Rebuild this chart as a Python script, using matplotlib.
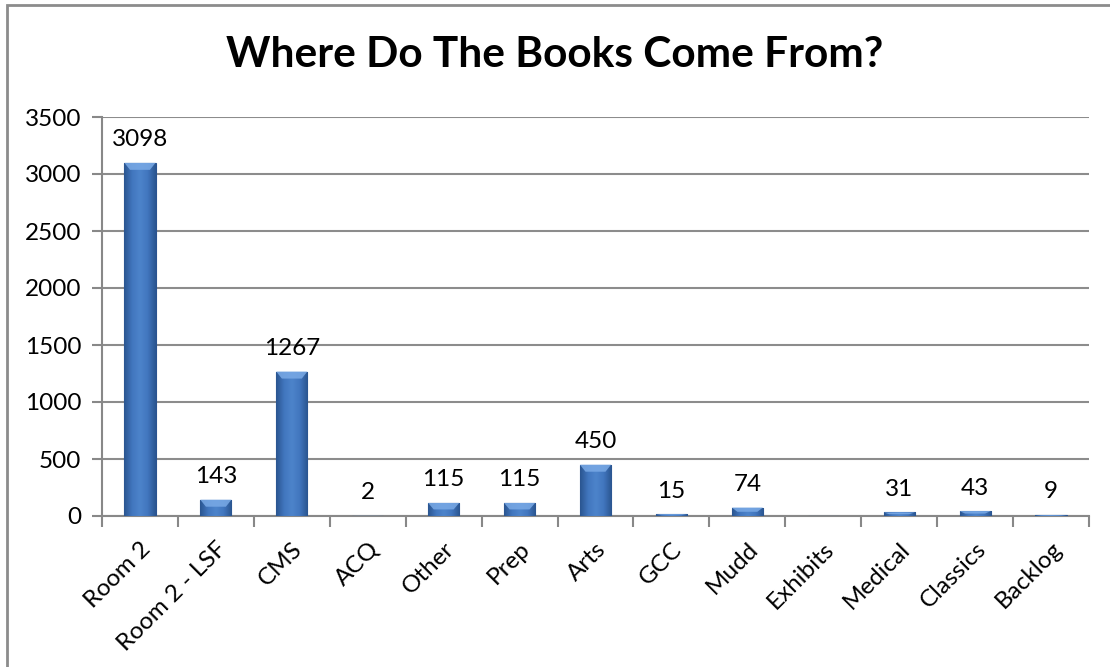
import numpy as np
import matplotlib
matplotlib.use("Agg")
import matplotlib.pyplot as plt
from matplotlib.patches import Rectangle, Polygon
from matplotlib.colors import LinearSegmentedColormap

categories = ["Room 2", "Room 2 - LSF", "CMS", "ACQ", "Other", "Prep", "Arts",
              "GCC", "Mudd", "Exhibits", "Medical", "Classics", "Backlog"]
values = [3098, 143, 1267, 2, 115, 115, 450, 15, 74, np.nan, 31, 43, 9]
yticks = [0, 500, 1000, 1500, 2000, 2500, 3000, 3500]
title = "Where Do The Books Come From?"

plt.rcParams['font.family'] = ['Lato', 'DejaVu Sans']

fig = plt.figure(figsize=(11.10, 6.67), dpi=100)
W, H = 1110, 667
ax = fig.add_axes([102 / W, 1 - 516 / H, (1089 - 102) / W, (516 - 117) / H])

x = np.arange(len(categories))
vals = np.array(values, dtype=float)
plot_vals = np.nan_to_num(vals, nan=0.0)

bars = ax.bar(x, plot_vals, width=0.41, color="#3b6db3", edgecolor="#2a5390",
              linewidth=0.8, zorder=3)

cmap = LinearSegmentedColormap.from_list(
    "b", ["#2a5590", "#4176be", "#4d84cb", "#4176be", "#2a5590"])
grad = np.linspace(0, 1, 64).reshape(1, -1)
ax.set_xlim(-0.5, len(categories) - 0.5)
ax.set_ylim(0, 3500)
trans = ax.transData
inv = trans.inverted()
for b, v in zip(bars, plot_vals):
    if v <= 0:
        continue
    x0, w, h = b.get_x(), b.get_width(), b.get_height()
    im = ax.imshow(grad, extent=[x0, x0 + w, 0, h], aspect="auto",
                   cmap=cmap, zorder=3.5, interpolation="bicubic")
    im.set_clip_path(b)
    bev = min(7, h / 3500 * 399 * 0.5)
    inset = w * 0.18
    p_top_l = trans.transform((x0, h))
    p_top_r = trans.transform((x0 + w, h))
    p_bot_l = trans.transform((x0 + inset, h))
    p_bot_r = trans.transform((x0 + w - inset, h))
    p_bot_l[1] -= bev
    p_bot_r[1] -= bev
    pts = inv.transform([p_top_l, p_top_r, p_bot_r, p_bot_l])
    ax.add_patch(Polygon(pts, closed=True, facecolor="#7aaae6", edgecolor="none",
                         zorder=4, alpha=0.85))

for xi, v in zip(x, vals):
    if np.isnan(v):
        continue
    ax.annotate(f"{int(v)}", (xi, v), xytext=(0, 9), textcoords="offset points",
                ha="center", va="bottom", fontsize=17.5, color="black")

ax.set_yticks(yticks)
ax.set_yticklabels([str(t) for t in yticks], fontsize=17.5)
ax.set_xticks(np.arange(len(categories) + 1) - 0.5, minor=False)
ax.set_xticklabels([])
ax.set_xticks(x, minor=True)
ax.set_xticklabels(categories, minor=True, rotation=45, ha="right",
                   rotation_mode="anchor", fontsize=17.5)
ax.tick_params(axis="x", which="minor", length=0, pad=16)
ax.tick_params(axis="x", which="major", length=8, color="#888888", width=1.5)
ax.tick_params(axis="y", length=7, color="#888888", width=1.5, pad=8)

ax.grid(axis="y", color="#8c8c8c", linewidth=1.5, zorder=0)
ax.set_axisbelow(True)
for s in ["top", "right"]:
    ax.spines[s].set_visible(False)
for s in ["left", "bottom"]:
    ax.spines[s].set_color("#888888")
    ax.spines[s].set_linewidth(1.5)

fig.text(0.5, 1 - 55 / H, title, ha="center", va="center", fontsize=30.5,
         fontweight="bold")

fig.patches.append(Rectangle((7 / W, -0.1), 1.2, 1 - 5 / H + 0.1,
                             transform=fig.transFigure, fill=False,
                             edgecolor="#8c8c8c", linewidth=2))

fig.savefig("out.png", dpi=100)
